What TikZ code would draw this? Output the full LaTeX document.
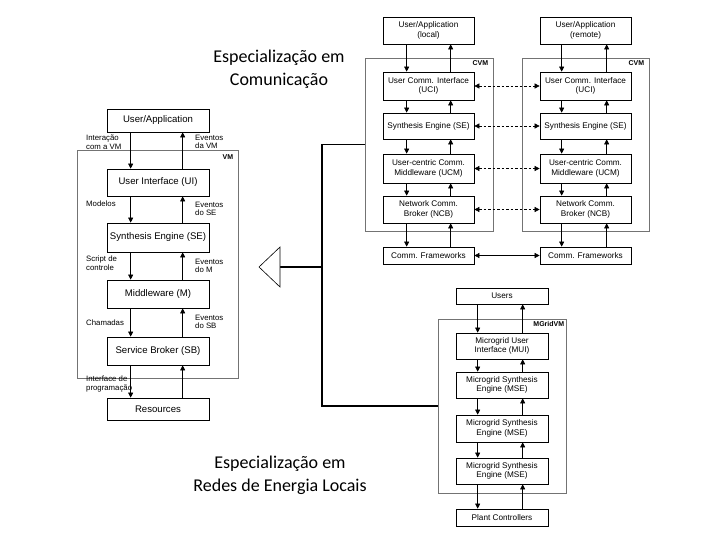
\documentclass[tikz,border=0pt]{standalone}
\usepackage{fontspec}
\setmainfont{Liberation Sans}
\newfontfamily\titlefont{Carlito}
\usetikzlibrary{calc,arrows.meta}
\def\vmfont{\fontsize{9.6}{11}\selectfont}
\def\cvmfont{\fontsize{8.2}{9.5}\selectfont}
\def\updown(#1)(#2)(#3:#4){\draw[arr] ($(#1.south west)+(#3,0)$) -- ($(#2.north west)+(#3,0)$); \draw[arr] ($(#2.north west)+(#4,0)$) -- ($(#1.south west)+(#4,0)$);}
\tikzset{
	box/.style={draw, line width=0.7pt, inner sep=0pt, align=center},
	frame/.style={draw=black!55, line width=0.7pt, inner sep=0pt},
	arr/.style={-{Triangle[length=5pt,width=5pt]}, line width=0.6pt},
	dbl/.style={{Triangle[length=5pt,width=5pt]}-{Triangle[length=5pt,width=5pt]}, line width=0.6pt},
	lbl/.style={font=\fontsize{7.8}{8.5}\selectfont, align=left, anchor=west, inner sep=0pt},
	tag/.style={font=\fontsize{7}{8}\selectfont\bfseries, anchor=north east, inner sep=0pt},
	brk/.style={line width=1.4pt},
	title/.style={font=\titlefont\fontsize{18}{22.5}\selectfont, align=center}
}

\begin{document}
\begin{tikzpicture}[x=1pt,y=-1pt]
			%%%%% START %%%%%
			\useasboundingbox (0,0) rectangle (720,540);
			
			%%%%% VM %%%%%
			\node[frame, minimum width=161pt, minimum height=228pt] (vm) at (157.5,264) {};
			\node[tag] (vmtag) at ($(vm.north east)+(-5,4.5)$) {VM};
			\node[box, font=\vmfont, minimum width=102pt, minimum height=23pt] (ua) at (158,120.5) {User/Application};
			\node[box, font=\vmfont, minimum width=102pt, minimum height=27pt] (ui) at (158,182.5) {User Interface (UI)};
			\node[box, font=\vmfont, minimum width=102pt, minimum height=29pt] (se) at (158,237.5) {Synthesis Engine (SE)};
			\node[box, font=\vmfont, minimum width=102pt, minimum height=28pt] (mw) at (158,294) {Middleware (M)};
			\node[box, font=\vmfont, minimum width=102pt, minimum height=28pt] (sb) at (158,351) {Service Broker (SB)};
			\node[box, font=\vmfont, minimum width=102pt, minimum height=22pt] (res) at (158,409) {Resources};
			\updown(ua)(ui)(24:76)
			\updown(ui)(se)(24:76)
			\updown(se)(mw)(24:76)
			\updown(mw)(sb)(24:76)
			\updown(sb)(res)(24:76)
			
			\node[lbl] (l1) at (86,142) {Interação\\com a VM};
			\node[lbl] (r1) at (195,142) {Eventos\\da VM};
			\node[lbl] (l2) at (86,204) {Modelos};
			\node[lbl] (r2) at (195,209) {Eventos\\do SE};
			\node[lbl] (l3) at (86,263) {Script de\\controle};
			\node[lbl] (r3) at (195,266) {Eventos\\do M};
			\node[lbl] (l4) at (86,323) {Chamadas};
			\node[lbl] (r4) at (195,322) {Eventos\\do SB};
			\node[lbl] (l5) at (86,384) {Interface de\\programação};
			
			%%%%% CVM %%%%%
			\node[frame, minimum width=128pt, minimum height=173pt] (cvmL) at (429,144.5) {};
			\node[frame, minimum width=127pt, minimum height=173pt] (cvmR) at (585.5,144.5) {};
			\node[tag] (cvmLtag) at ($(cvmL.north east)+(-5,2.5)$) {CVM};
			\node[tag] (cvmRtag) at ($(cvmR.north east)+(-5,2.5)$) {CVM};
			
			\node[box, font=\cvmfont, minimum width=91pt, minimum height=27pt] (uaL) at (428.5,30.5) {User/Application\\(local)};
			\node[box, font=\cvmfont, minimum width=91pt, minimum height=28pt] (uciL) at (428.5,86) {User Comm. Interface\\(UCI)};
			\node[box, font=\cvmfont, minimum width=91pt, minimum height=26pt] (seL) at (428.5,126) {Synthesis Engine (SE)};
			\node[box, font=\cvmfont, minimum width=91pt, minimum height=29pt] (ucmL) at (428.5,168.5) {User-centric Comm.\\Middleware (UCM)};
			\node[box, font=\cvmfont, minimum width=91pt, minimum height=27pt] (ncbL) at (428.5,209.5) {Network Comm.\\Broker (NCB)};
			\node[box, font=\cvmfont, minimum width=91pt, minimum height=17pt] (cfL) at (428.5,255.5) {Comm. Frameworks};
			
			\node[box, font=\cvmfont, minimum width=91pt, minimum height=27pt] (uaR) at (585.5,30.5) {User/Application\\(remote)};
			\node[box, font=\cvmfont, minimum width=91pt, minimum height=28pt] (uciR) at (585.5,86) {User Comm. Interface\\(UCI)};
			\node[box, font=\cvmfont, minimum width=91pt, minimum height=26pt] (seR) at (585.5,126) {Synthesis Engine (SE)};
			\node[box, font=\cvmfont, minimum width=91pt, minimum height=29pt] (ucmR) at (585.5,168.5) {User-centric Comm.\\Middleware (UCM)};
			\node[box, font=\cvmfont, minimum width=91pt, minimum height=27pt] (ncbR) at (585.5,209.5) {Network Comm.\\Broker (NCB)};
			\node[box, font=\cvmfont, minimum width=91pt, minimum height=17pt] (cfR) at (585.5,255.5) {Comm. Frameworks};
			
			\updown(uaL)(uciL)(24:68)
			\updown(uciL)(seL)(24:68)
			\updown(seL)(ucmL)(24:68)
			\updown(ucmL)(ncbL)(24:68)
			\updown(ncbL)(cfL)(24:68)
			\updown(uaR)(uciR)(22:67)
			\updown(uciR)(seR)(22:67)
			\updown(seR)(ucmR)(22:67)
			\updown(ucmR)(ncbR)(22:67)
			\updown(ncbR)(cfR)(22:67)
			
			\draw[dbl, dash pattern=on 2.5pt off 2pt] (uciL) -- (uciR);
			\draw[dbl, dash pattern=on 2.5pt off 2pt] (seL) -- (seR);
			\draw[dbl, dash pattern=on 2.5pt off 2pt] (ucmL) -- (ucmR);
			\draw[dbl, dash pattern=on 2.5pt off 2pt] (ncbL) -- (ncbR);
			\draw[dbl] (cfL) -- (cfR);
			
			%%%%% MGridVM %%%%%
			\node[frame, minimum width=128pt, minimum height=174pt] (mg) at (502,406) {};
			\node[tag] (mgtag) at ($(mg.north east)+(-2,3)$) {MGridVM};
			\node[box, font=\cvmfont, minimum width=92pt, minimum height=16pt] (usr) at (502,296) {Users};
			\node[box, font=\cvmfont, minimum width=92pt, minimum height=26pt] (mui) at (502,346) {Microgrid User\\Interface (MUI)};
			\node[box, font=\cvmfont, minimum width=92pt, minimum height=26pt] (mse1) at (502,385) {Microgrid Synthesis\\Engine (MSE)};
			\node[box, font=\cvmfont, minimum width=92pt, minimum height=27pt] (mse2) at (502,428.5) {Microgrid Synthesis\\Engine (MSE)};
			\node[box, font=\cvmfont, minimum width=92pt, minimum height=26pt] (mse3) at (502,471) {Microgrid Synthesis\\Engine (MSE)};
			\node[box, font=\cvmfont, minimum width=92pt, minimum height=17pt] (pc) at (502,517.5) {Plant Controllers};
			\updown(usr)(mui)(22:67)
			\updown(mui)(mse1)(22:67)
			\updown(mse1)(mse2)(22:67)
			\updown(mse2)(mse3)(22:67)
			\updown(mse3)(pc)(22:67)
			
			%%%%% bracket %%%%%
			\coordinate (jm) at (322,267);
			\coordinate (tri) at (280,267);
			\draw[brk] (cvmL.west) -| (jm) |- (mg.west);
			\draw[brk] (jm) -- (tri);
			\draw[line width=0.6pt, fill=white] (280,247) -- (259,267) -- (280,287) -- cycle;
			
			\node[title] (tcom) at (279,69.5) {Especialização em\\Comunicação};
			\node[title] (tred) at (280,475.5) {Especialização em\\Redes de Energia Locais};
			%%%%% END %%%%%
\end{tikzpicture}
\end{document}
